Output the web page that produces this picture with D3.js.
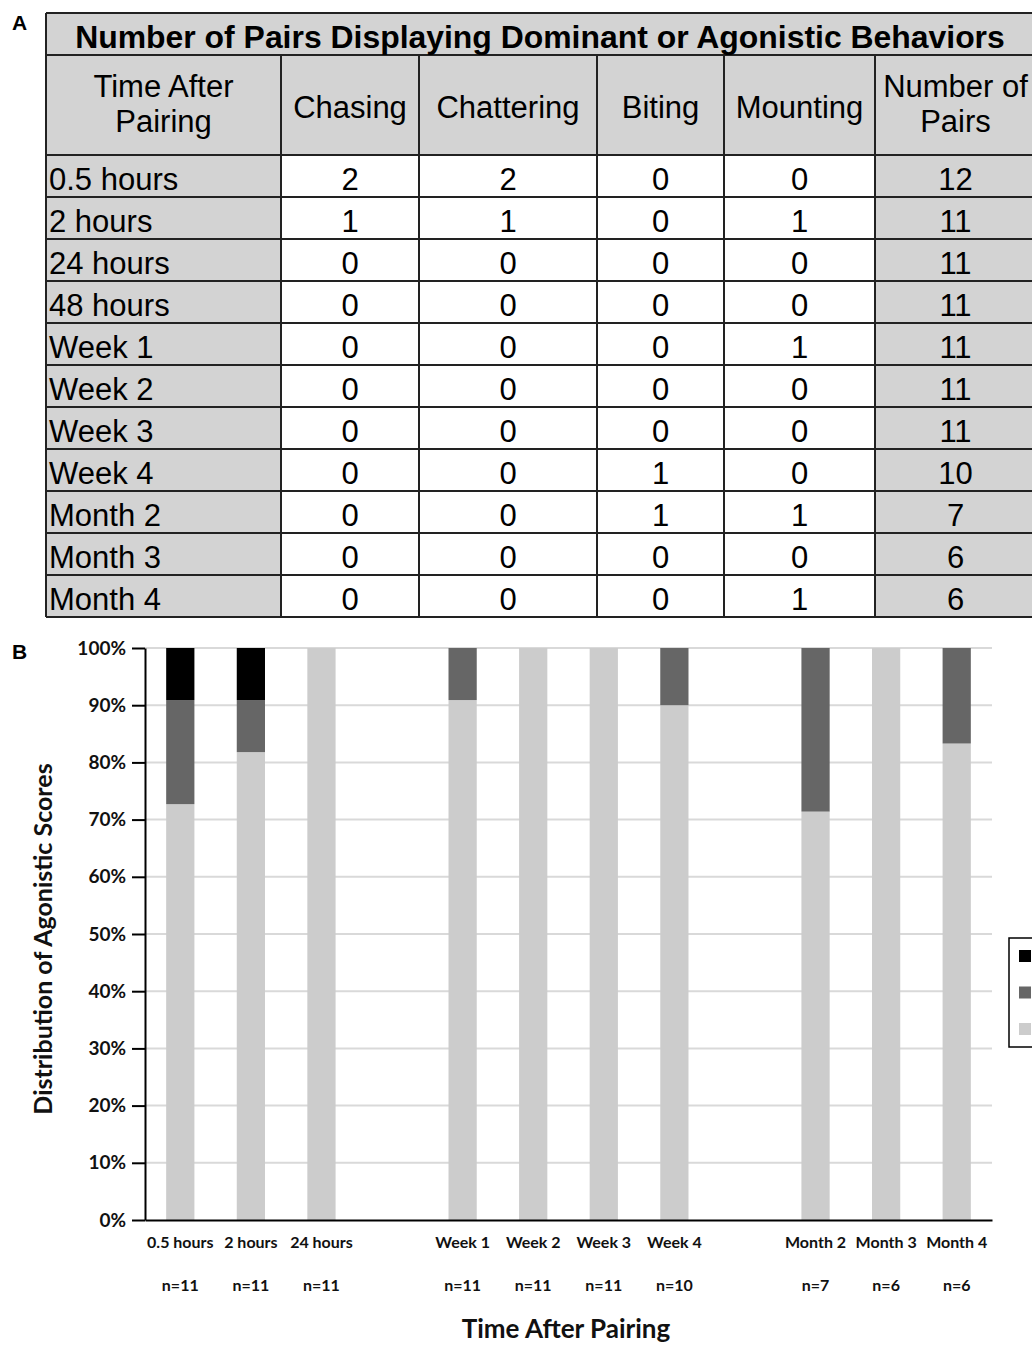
<!DOCTYPE html>
<html>
<head>
<meta charset="utf-8">
<script src="https://cdn.jsdelivr.net/npm/d3@7"></script>
<style>
body { margin: 0; background: #fff; }
svg { display: block; }
</style>
</head>
<body>
<svg id="fig"></svg>
<script>
// ---- table (panel A) ----
const tableTitle = "Number of Pairs Displaying Dominant or Agonistic Behaviors";
const colHeaders = [["Time After", "Pairing"], ["Chasing"], ["Chattering"], ["Biting"], ["Mounting"], ["Number of", "Pairs"]];
const tableTimes = ["0.5 hours", "2 hours", "24 hours", "48 hours", "Week 1", "Week 2", "Week 3", "Week 4", "Month 2", "Month 3", "Month 4"];
const chasing = [2, 1, 0, 0, 0, 0, 0, 0, 0, 0, 0];
const chattering = [2, 1, 0, 0, 0, 0, 0, 0, 0, 0, 0];
const biting = [0, 0, 0, 0, 0, 0, 0, 1, 1, 0, 0];
const mounting = [0, 1, 0, 0, 1, 0, 0, 0, 1, 0, 1];
const pairs = [12, 11, 11, 11, 11, 11, 11, 10, 7, 6, 6];

// ---- chart (panel B) ----
const slots = ["0.5 hours", "2 hours", "24 hours", "", "Week 1", "Week 2", "Week 3", "Week 4", "", "Month 2", "Month 3", "Month 4"];
const nLabels = ["n=11", "n=11", "n=11", "", "n=11", "n=11", "n=11", "n=10", "", "n=7", "n=6", "n=6"];
const score0 = [72.7, 81.8, 100, 0, 90.9, 100, 100, 90, 0, 71.4, 100, 83.3];
const score1 = [18.2, 9.1, 0, 0, 9.1, 0, 0, 10, 0, 28.6, 0, 16.7];
const score2 = [9.1, 9.1, 0, 0, 0, 0, 0, 0, 0, 0, 0, 0];
const yTicks = [0, 10, 20, 30, 40, 50, 60, 70, 80, 90, 100];
const seriesKeys = ["score0", "score1", "score2"];

const W = 1032, H = 1345;
const colors = { score0: "#cccccc", score1: "#666666", score2: "#000000" };
const tableFont = "'Liberation Sans', Arial, sans-serif";
const chartFont = "Lato, 'Open Sans', sans-serif";
const gray = "#d3d3d3";
const lineCol = "#222";

const svg = d3.select("#fig").attr("width", W).attr("height", H);

// panel letters
svg.append("text").attr("x", 12).attr("y", 30).text("A")
	.style("font", `bold 21px ${tableFont}`);
svg.append("text").attr("x", 12).attr("y", 659).text("B")
	.style("font", `bold 21px ${tableFont}`);

// ---------- table ----------
const colX = [46, 281, 419, 597, 724, 875, 1036];
const titleTop = 13, headTop = 55, bodyTop = 155, bodyBottom = 617;
const rowY = d3.scaleLinear().domain([0, tableTimes.length]).range([bodyTop, bodyBottom]);

const $table = svg.append("g").attr("class", "table");

// backgrounds
$table.append("rect").attr("x", colX[0]).attr("y", titleTop)
	.attr("width", colX[6] - colX[0]).attr("height", bodyTop - titleTop).attr("fill", gray);
$table.append("rect").attr("x", colX[0]).attr("y", bodyTop)
	.attr("width", colX[1] - colX[0]).attr("height", bodyBottom - bodyTop).attr("fill", gray);
$table.append("rect").attr("x", colX[5]).attr("y", bodyTop)
	.attr("width", colX[6] - colX[5]).attr("height", bodyBottom - bodyTop).attr("fill", gray);

// lines
const hLines = [titleTop, headTop].concat(d3.range(tableTimes.length + 1).map((i) => rowY(i)));
$table.selectAll(".hline").data(hLines).enter().append("line")
	.attr("x1", colX[0]).attr("x2", colX[6])
	.attr("y1", (d) => d).attr("y2", (d) => d)
	.attr("stroke", lineCol).attr("stroke-width", 2);
$table.selectAll(".vline").data(colX).enter().append("line")
	.attr("x1", (d) => d).attr("x2", (d) => d)
	.attr("y1", (d, i) => (i == 0 || i == 6) ? titleTop : headTop).attr("y2", bodyBottom)
	.attr("stroke", lineCol).attr("stroke-width", 2);

// title, sized to span the same width as the original
const $title = $table.append("text")
	.attr("x", 540).attr("y", 48).attr("text-anchor", "middle")
	.style("font", `bold 27px ${tableFont}`).text(tableTitle);
const tw = $title.node().getComputedTextLength();
$title.style("font-size", (27 * 930 / tw).toFixed(2) + "px");

// headers
colHeaders.forEach((lines, i) => {
	const cx = (colX[i] + colX[i + 1]) / 2;
	const baselines = lines.length == 2 ? [97, 132] : [118];
	lines.forEach((ln, j) => {
		$table.append("text").attr("x", cx).attr("y", baselines[j])
			.attr("text-anchor", "middle")
			.style("font", `31px ${tableFont}`).text(ln);
	});
});

// body
const cols = [chasing, chattering, biting, mounting, pairs];
tableTimes.forEach((t, r) => {
	const by = rowY(r) + 35;
	$table.append("text").attr("x", colX[0] + 3).attr("y", by)
		.style("font", `31px ${tableFont}`).text(t);
	cols.forEach((arr, c) => {
		$table.append("text").attr("x", (colX[c + 1] + colX[c + 2]) / 2).attr("y", by)
			.attr("text-anchor", "middle")
			.style("font", `31px ${tableFont}`).text(arr[r]);
	});
});

// ---------- chart ----------
const plot = { left: 145, right: 992, top: 648, bottom: 1220 };

const x = d3.scaleBand().domain(d3.range(slots.length))
	.range([plot.left, plot.right]).paddingInner(0.6).paddingOuter(0.3);
const y = d3.scaleLinear().domain([0, 100]).range([plot.bottom, plot.top]);

const $chart = svg.append("g").attr("class", "chart");

// gridlines
$chart.selectAll(".grid").data(yTicks.filter((d) => d > 0)).enter().append("line")
	.attr("x1", plot.left).attr("x2", plot.right)
	.attr("y1", (d) => y(d)).attr("y2", (d) => y(d))
	.attr("stroke", "#d9d9d9").attr("stroke-width", 2);

// stacked bars
const rows = slots.map((s, i) => ({ i: i, score0: score0[i], score1: score1[i], score2: score2[i] }));
const stacked = d3.stack().keys(seriesKeys)(rows);

$chart.selectAll(".series").data(stacked).enter().append("g")
	.attr("fill", (d) => colors[d.key])
	.selectAll("rect").data((d) => d.filter((p) => p[1] > p[0])).enter().append("rect")
	.attr("x", (d) => x(d.data.i))
	.attr("width", x.bandwidth())
	.attr("y", (d) => y(d[1]))
	.attr("height", (d) => y(d[0]) - y(d[1]));

// y axis
const yAxis = d3.axisLeft(y).tickValues(yTicks).tickFormat((d) => d + "%")
	.tickSize(13).tickSizeOuter(0).tickPadding(6);
const $yAxis = $chart.append("g").attr("transform", `translate(${plot.left},0)`).call(yAxis);
$yAxis.select(".domain").attr("stroke", "#000").attr("stroke-width", 2);
$yAxis.selectAll(".tick line").attr("stroke", "#000").attr("stroke-width", 2);
$yAxis.selectAll(".tick text").style("font", `bold 19px ${chartFont}`).attr("fill", "#111");

// x axis
const xAxis = d3.axisBottom(x).tickFormat((i) => slots[i]).tickSize(0).tickPadding(17);
const $xAxis = $chart.append("g").attr("transform", `translate(0,${plot.bottom})`).call(xAxis);
$xAxis.select(".domain").attr("stroke", "#000").attr("stroke-width", 2);
$xAxis.selectAll(".tick text").style("font", `bold 16px ${chartFont}`).attr("fill", "#111");

// n labels
$chart.selectAll(".nlab").data(nLabels).enter().append("text")
	.attr("x", (d, i) => x(i) + x.bandwidth() / 2).attr("y", 1291)
	.attr("text-anchor", "middle")
	.style("font", `bold 16px ${chartFont}`).attr("fill", "#111")
	.text((d) => d);

// axis titles
$chart.append("text").attr("x", 566).attr("y", 1338).attr("text-anchor", "middle")
	.style("font", `bold 26px ${chartFont}`).attr("fill", "#111").text("Time After Pairing");
$chart.append("text").attr("transform", "translate(52,939) rotate(-90)").attr("text-anchor", "middle")
	.style("font", `bold 25px ${chartFont}`).attr("fill", "#111").text("Distribution of Agonistic Scores");

// legend (labels fall outside the picture)
const $legend = $chart.append("g").attr("transform", "translate(1009,938)");
$legend.append("rect").attr("width", 60).attr("height", 109)
	.attr("fill", "#fff").attr("stroke", "#000").attr("stroke-width", 1.5);
$legend.selectAll(".key").data(seriesKeys.slice().reverse()).enter().append("rect")
	.attr("x", 10).attr("y", (d, i) => 12 + i * 36.5)
	.attr("width", 12).attr("height", 12)
	.attr("fill", (d) => colors[d]);
</script>
</body>
</html>
